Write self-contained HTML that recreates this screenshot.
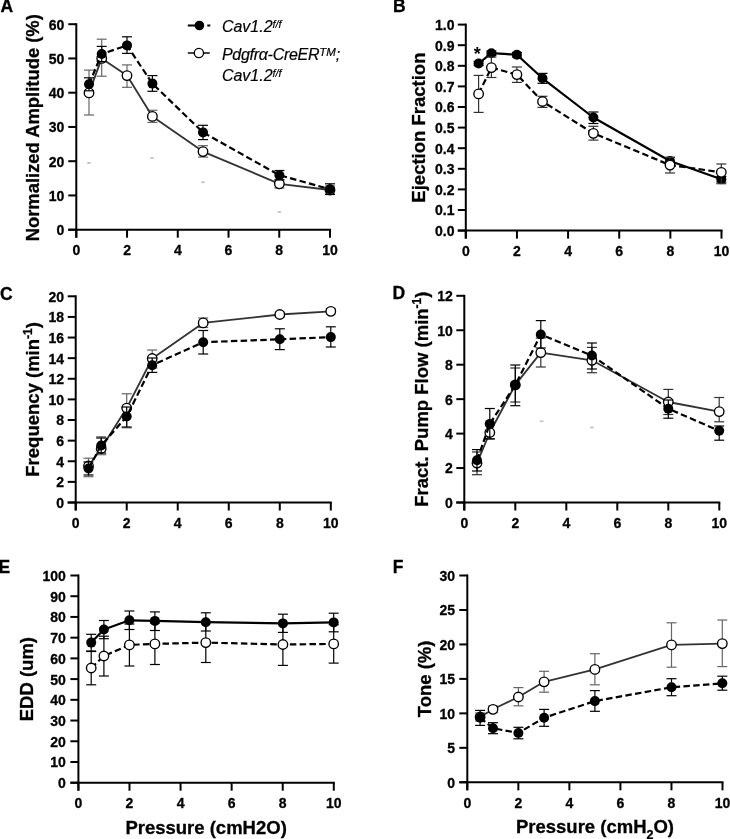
<!DOCTYPE html>
<html><head><meta charset="utf-8"><style>
html,body{margin:0;padding:0;background:#fff;}
body{width:730px;height:839px;overflow:hidden;font-family:"Liberation Sans", sans-serif;}
svg{display:block;}
</style></head><body>
<svg width="730" height="839" viewBox="0 0 730 839" font-family='"Liberation Sans", sans-serif'>
<rect x="0" y="0" width="730" height="839" fill="#fff"/>
<defs><filter id="bl" x="0" y="0" width="100%" height="100%"><feGaussianBlur stdDeviation="0.4"/></filter></defs><g filter="url(#bl)">
<line x1="76.30" y1="23.20" x2="76.30" y2="237.70" stroke="#000" stroke-width="2.0" />
<line x1="68.30" y1="229.70" x2="331.00" y2="229.70" stroke="#000" stroke-width="2.0" />
<line x1="68.30" y1="229.70" x2="76.30" y2="229.70" stroke="#000" stroke-width="2.0" />
<text x="64.30" y="235.10" font-size="14" text-anchor="end" font-weight="bold" font-style="normal" stroke="#000" stroke-width="0.3">0</text>
<line x1="68.30" y1="195.45" x2="76.30" y2="195.45" stroke="#000" stroke-width="2.0" />
<text x="64.30" y="200.85" font-size="14" text-anchor="end" font-weight="bold" font-style="normal" stroke="#000" stroke-width="0.3">10</text>
<line x1="68.30" y1="161.20" x2="76.30" y2="161.20" stroke="#000" stroke-width="2.0" />
<text x="64.30" y="166.60" font-size="14" text-anchor="end" font-weight="bold" font-style="normal" stroke="#000" stroke-width="0.3">20</text>
<line x1="68.30" y1="126.95" x2="76.30" y2="126.95" stroke="#000" stroke-width="2.0" />
<text x="64.30" y="132.35" font-size="14" text-anchor="end" font-weight="bold" font-style="normal" stroke="#000" stroke-width="0.3">30</text>
<line x1="68.30" y1="92.70" x2="76.30" y2="92.70" stroke="#000" stroke-width="2.0" />
<text x="64.30" y="98.10" font-size="14" text-anchor="end" font-weight="bold" font-style="normal" stroke="#000" stroke-width="0.3">40</text>
<line x1="68.30" y1="58.45" x2="76.30" y2="58.45" stroke="#000" stroke-width="2.0" />
<text x="64.30" y="63.85" font-size="14" text-anchor="end" font-weight="bold" font-style="normal" stroke="#000" stroke-width="0.3">50</text>
<line x1="68.30" y1="24.20" x2="76.30" y2="24.20" stroke="#000" stroke-width="2.0" />
<text x="64.30" y="29.60" font-size="14" text-anchor="end" font-weight="bold" font-style="normal" stroke="#000" stroke-width="0.3">60</text>
<line x1="76.30" y1="229.70" x2="76.30" y2="237.70" stroke="#000" stroke-width="2.0" />
<text x="76.30" y="254.50" font-size="14" text-anchor="middle" font-weight="bold" font-style="normal" stroke="#000" stroke-width="0.3">0</text>
<line x1="127.04" y1="229.70" x2="127.04" y2="237.70" stroke="#000" stroke-width="2.0" />
<text x="127.04" y="254.50" font-size="14" text-anchor="middle" font-weight="bold" font-style="normal" stroke="#000" stroke-width="0.3">2</text>
<line x1="177.78" y1="229.70" x2="177.78" y2="237.70" stroke="#000" stroke-width="2.0" />
<text x="177.78" y="254.50" font-size="14" text-anchor="middle" font-weight="bold" font-style="normal" stroke="#000" stroke-width="0.3">4</text>
<line x1="228.52" y1="229.70" x2="228.52" y2="237.70" stroke="#000" stroke-width="2.0" />
<text x="228.52" y="254.50" font-size="14" text-anchor="middle" font-weight="bold" font-style="normal" stroke="#000" stroke-width="0.3">6</text>
<line x1="279.26" y1="229.70" x2="279.26" y2="237.70" stroke="#000" stroke-width="2.0" />
<text x="279.26" y="254.50" font-size="14" text-anchor="middle" font-weight="bold" font-style="normal" stroke="#000" stroke-width="0.3">8</text>
<line x1="330.00" y1="229.70" x2="330.00" y2="237.70" stroke="#000" stroke-width="2.0" />
<text x="330.00" y="254.50" font-size="14" text-anchor="middle" font-weight="bold" font-style="normal" stroke="#000" stroke-width="0.3">10</text>
<text transform="translate(38.90,127.75) rotate(-90)" x="0" y="0" font-size="18.4" stroke="#000" stroke-width="0.3" text-anchor="middle" font-weight="bold">Normalized Amplitude (%)</text>
<text x="0.50" y="12.30" font-size="17.5" text-anchor="start" font-weight="bold" font-style="normal" stroke="#000" stroke-width="0.3">A</text>
<line x1="465.80" y1="23.60" x2="465.80" y2="238.60" stroke="#000" stroke-width="2.0" />
<line x1="457.80" y1="230.60" x2="722.50" y2="230.60" stroke="#000" stroke-width="2.0" />
<line x1="457.80" y1="230.60" x2="465.80" y2="230.60" stroke="#000" stroke-width="2.0" />
<text x="454.50" y="236.00" font-size="14" text-anchor="end" font-weight="bold" font-style="normal" stroke="#000" stroke-width="0.3">0.0</text>
<line x1="457.80" y1="210.00" x2="465.80" y2="210.00" stroke="#000" stroke-width="2.0" />
<text x="454.50" y="215.40" font-size="14" text-anchor="end" font-weight="bold" font-style="normal" stroke="#000" stroke-width="0.3">0.1</text>
<line x1="457.80" y1="189.40" x2="465.80" y2="189.40" stroke="#000" stroke-width="2.0" />
<text x="454.50" y="194.80" font-size="14" text-anchor="end" font-weight="bold" font-style="normal" stroke="#000" stroke-width="0.3">0.2</text>
<line x1="457.80" y1="168.80" x2="465.80" y2="168.80" stroke="#000" stroke-width="2.0" />
<text x="454.50" y="174.20" font-size="14" text-anchor="end" font-weight="bold" font-style="normal" stroke="#000" stroke-width="0.3">0.3</text>
<line x1="457.80" y1="148.20" x2="465.80" y2="148.20" stroke="#000" stroke-width="2.0" />
<text x="454.50" y="153.60" font-size="14" text-anchor="end" font-weight="bold" font-style="normal" stroke="#000" stroke-width="0.3">0.4</text>
<line x1="457.80" y1="127.60" x2="465.80" y2="127.60" stroke="#000" stroke-width="2.0" />
<text x="454.50" y="133.00" font-size="14" text-anchor="end" font-weight="bold" font-style="normal" stroke="#000" stroke-width="0.3">0.5</text>
<line x1="457.80" y1="107.00" x2="465.80" y2="107.00" stroke="#000" stroke-width="2.0" />
<text x="454.50" y="112.40" font-size="14" text-anchor="end" font-weight="bold" font-style="normal" stroke="#000" stroke-width="0.3">0.6</text>
<line x1="457.80" y1="86.40" x2="465.80" y2="86.40" stroke="#000" stroke-width="2.0" />
<text x="454.50" y="91.80" font-size="14" text-anchor="end" font-weight="bold" font-style="normal" stroke="#000" stroke-width="0.3">0.7</text>
<line x1="457.80" y1="65.80" x2="465.80" y2="65.80" stroke="#000" stroke-width="2.0" />
<text x="454.50" y="71.20" font-size="14" text-anchor="end" font-weight="bold" font-style="normal" stroke="#000" stroke-width="0.3">0.8</text>
<line x1="457.80" y1="45.20" x2="465.80" y2="45.20" stroke="#000" stroke-width="2.0" />
<text x="454.50" y="50.60" font-size="14" text-anchor="end" font-weight="bold" font-style="normal" stroke="#000" stroke-width="0.3">0.9</text>
<line x1="457.80" y1="24.60" x2="465.80" y2="24.60" stroke="#000" stroke-width="2.0" />
<text x="454.50" y="30.00" font-size="14" text-anchor="end" font-weight="bold" font-style="normal" stroke="#000" stroke-width="0.3">1.0</text>
<line x1="465.80" y1="230.60" x2="465.80" y2="238.60" stroke="#000" stroke-width="2.0" />
<text x="465.80" y="255.50" font-size="14" text-anchor="middle" font-weight="bold" font-style="normal" stroke="#000" stroke-width="0.3">0</text>
<line x1="516.94" y1="230.60" x2="516.94" y2="238.60" stroke="#000" stroke-width="2.0" />
<text x="516.94" y="255.50" font-size="14" text-anchor="middle" font-weight="bold" font-style="normal" stroke="#000" stroke-width="0.3">2</text>
<line x1="568.08" y1="230.60" x2="568.08" y2="238.60" stroke="#000" stroke-width="2.0" />
<text x="568.08" y="255.50" font-size="14" text-anchor="middle" font-weight="bold" font-style="normal" stroke="#000" stroke-width="0.3">4</text>
<line x1="619.22" y1="230.60" x2="619.22" y2="238.60" stroke="#000" stroke-width="2.0" />
<text x="619.22" y="255.50" font-size="14" text-anchor="middle" font-weight="bold" font-style="normal" stroke="#000" stroke-width="0.3">6</text>
<line x1="670.36" y1="230.60" x2="670.36" y2="238.60" stroke="#000" stroke-width="2.0" />
<text x="670.36" y="255.50" font-size="14" text-anchor="middle" font-weight="bold" font-style="normal" stroke="#000" stroke-width="0.3">8</text>
<line x1="721.50" y1="230.60" x2="721.50" y2="238.60" stroke="#000" stroke-width="2.0" />
<text x="721.50" y="255.50" font-size="14" text-anchor="middle" font-weight="bold" font-style="normal" stroke="#000" stroke-width="0.3">10</text>
<text transform="translate(425.00,127.60) rotate(-90)" x="0" y="0" font-size="18.5" stroke="#000" stroke-width="0.3" text-anchor="middle" font-weight="bold">Ejection Fraction</text>
<text x="393.00" y="12.30" font-size="17.5" text-anchor="start" font-weight="bold" font-style="normal" stroke="#000" stroke-width="0.3">B</text>
<line x1="75.70" y1="295.30" x2="75.70" y2="510.50" stroke="#000" stroke-width="2.0" />
<line x1="67.70" y1="502.50" x2="331.80" y2="502.50" stroke="#000" stroke-width="2.0" />
<line x1="67.70" y1="502.50" x2="75.70" y2="502.50" stroke="#000" stroke-width="2.0" />
<text x="64.00" y="507.90" font-size="14" text-anchor="end" font-weight="bold" font-style="normal" stroke="#000" stroke-width="0.3">0</text>
<line x1="67.70" y1="481.88" x2="75.70" y2="481.88" stroke="#000" stroke-width="2.0" />
<text x="64.00" y="487.28" font-size="14" text-anchor="end" font-weight="bold" font-style="normal" stroke="#000" stroke-width="0.3">2</text>
<line x1="67.70" y1="461.26" x2="75.70" y2="461.26" stroke="#000" stroke-width="2.0" />
<text x="64.00" y="466.66" font-size="14" text-anchor="end" font-weight="bold" font-style="normal" stroke="#000" stroke-width="0.3">4</text>
<line x1="67.70" y1="440.64" x2="75.70" y2="440.64" stroke="#000" stroke-width="2.0" />
<text x="64.00" y="446.04" font-size="14" text-anchor="end" font-weight="bold" font-style="normal" stroke="#000" stroke-width="0.3">6</text>
<line x1="67.70" y1="420.02" x2="75.70" y2="420.02" stroke="#000" stroke-width="2.0" />
<text x="64.00" y="425.42" font-size="14" text-anchor="end" font-weight="bold" font-style="normal" stroke="#000" stroke-width="0.3">8</text>
<line x1="67.70" y1="399.40" x2="75.70" y2="399.40" stroke="#000" stroke-width="2.0" />
<text x="64.00" y="404.80" font-size="14" text-anchor="end" font-weight="bold" font-style="normal" stroke="#000" stroke-width="0.3">10</text>
<line x1="67.70" y1="378.78" x2="75.70" y2="378.78" stroke="#000" stroke-width="2.0" />
<text x="64.00" y="384.18" font-size="14" text-anchor="end" font-weight="bold" font-style="normal" stroke="#000" stroke-width="0.3">12</text>
<line x1="67.70" y1="358.16" x2="75.70" y2="358.16" stroke="#000" stroke-width="2.0" />
<text x="64.00" y="363.56" font-size="14" text-anchor="end" font-weight="bold" font-style="normal" stroke="#000" stroke-width="0.3">14</text>
<line x1="67.70" y1="337.54" x2="75.70" y2="337.54" stroke="#000" stroke-width="2.0" />
<text x="64.00" y="342.94" font-size="14" text-anchor="end" font-weight="bold" font-style="normal" stroke="#000" stroke-width="0.3">16</text>
<line x1="67.70" y1="316.92" x2="75.70" y2="316.92" stroke="#000" stroke-width="2.0" />
<text x="64.00" y="322.32" font-size="14" text-anchor="end" font-weight="bold" font-style="normal" stroke="#000" stroke-width="0.3">18</text>
<line x1="67.70" y1="296.30" x2="75.70" y2="296.30" stroke="#000" stroke-width="2.0" />
<text x="64.00" y="301.70" font-size="14" text-anchor="end" font-weight="bold" font-style="normal" stroke="#000" stroke-width="0.3">20</text>
<line x1="75.70" y1="502.50" x2="75.70" y2="510.50" stroke="#000" stroke-width="2.0" />
<text x="75.70" y="527.50" font-size="14" text-anchor="middle" font-weight="bold" font-style="normal" stroke="#000" stroke-width="0.3">0</text>
<line x1="126.72" y1="502.50" x2="126.72" y2="510.50" stroke="#000" stroke-width="2.0" />
<text x="126.72" y="527.50" font-size="14" text-anchor="middle" font-weight="bold" font-style="normal" stroke="#000" stroke-width="0.3">2</text>
<line x1="177.74" y1="502.50" x2="177.74" y2="510.50" stroke="#000" stroke-width="2.0" />
<text x="177.74" y="527.50" font-size="14" text-anchor="middle" font-weight="bold" font-style="normal" stroke="#000" stroke-width="0.3">4</text>
<line x1="228.76" y1="502.50" x2="228.76" y2="510.50" stroke="#000" stroke-width="2.0" />
<text x="228.76" y="527.50" font-size="14" text-anchor="middle" font-weight="bold" font-style="normal" stroke="#000" stroke-width="0.3">6</text>
<line x1="279.78" y1="502.50" x2="279.78" y2="510.50" stroke="#000" stroke-width="2.0" />
<text x="279.78" y="527.50" font-size="14" text-anchor="middle" font-weight="bold" font-style="normal" stroke="#000" stroke-width="0.3">8</text>
<line x1="330.80" y1="502.50" x2="330.80" y2="510.50" stroke="#000" stroke-width="2.0" />
<text x="330.80" y="527.50" font-size="14" text-anchor="middle" font-weight="bold" font-style="normal" stroke="#000" stroke-width="0.3">10</text>
<text transform="translate(39.40,399.40) rotate(-90)" x="0" y="0" font-size="18.5" stroke="#000" stroke-width="0.3" text-anchor="middle" font-weight="bold">Frequency (min<tspan font-size="12" dy="-7">-1</tspan><tspan dy="7">)</tspan></text>
<text x="0.00" y="300.30" font-size="17.5" text-anchor="start" font-weight="bold" font-style="normal" stroke="#000" stroke-width="0.3">C</text>
<line x1="464.30" y1="294.80" x2="464.30" y2="510.50" stroke="#000" stroke-width="2.0" />
<line x1="456.30" y1="502.50" x2="720.30" y2="502.50" stroke="#000" stroke-width="2.0" />
<line x1="456.30" y1="502.50" x2="464.30" y2="502.50" stroke="#000" stroke-width="2.0" />
<text x="452.80" y="507.90" font-size="14" text-anchor="end" font-weight="bold" font-style="normal" stroke="#000" stroke-width="0.3">0</text>
<line x1="456.30" y1="468.05" x2="464.30" y2="468.05" stroke="#000" stroke-width="2.0" />
<text x="452.80" y="473.45" font-size="14" text-anchor="end" font-weight="bold" font-style="normal" stroke="#000" stroke-width="0.3">2</text>
<line x1="456.30" y1="433.60" x2="464.30" y2="433.60" stroke="#000" stroke-width="2.0" />
<text x="452.80" y="439.00" font-size="14" text-anchor="end" font-weight="bold" font-style="normal" stroke="#000" stroke-width="0.3">4</text>
<line x1="456.30" y1="399.15" x2="464.30" y2="399.15" stroke="#000" stroke-width="2.0" />
<text x="452.80" y="404.55" font-size="14" text-anchor="end" font-weight="bold" font-style="normal" stroke="#000" stroke-width="0.3">6</text>
<line x1="456.30" y1="364.70" x2="464.30" y2="364.70" stroke="#000" stroke-width="2.0" />
<text x="452.80" y="370.10" font-size="14" text-anchor="end" font-weight="bold" font-style="normal" stroke="#000" stroke-width="0.3">8</text>
<line x1="456.30" y1="330.25" x2="464.30" y2="330.25" stroke="#000" stroke-width="2.0" />
<text x="452.80" y="335.65" font-size="14" text-anchor="end" font-weight="bold" font-style="normal" stroke="#000" stroke-width="0.3">10</text>
<line x1="456.30" y1="295.80" x2="464.30" y2="295.80" stroke="#000" stroke-width="2.0" />
<text x="452.80" y="301.20" font-size="14" text-anchor="end" font-weight="bold" font-style="normal" stroke="#000" stroke-width="0.3">12</text>
<line x1="464.30" y1="502.50" x2="464.30" y2="510.50" stroke="#000" stroke-width="2.0" />
<text x="464.30" y="527.50" font-size="14" text-anchor="middle" font-weight="bold" font-style="normal" stroke="#000" stroke-width="0.3">0</text>
<line x1="515.30" y1="502.50" x2="515.30" y2="510.50" stroke="#000" stroke-width="2.0" />
<text x="515.30" y="527.50" font-size="14" text-anchor="middle" font-weight="bold" font-style="normal" stroke="#000" stroke-width="0.3">2</text>
<line x1="566.30" y1="502.50" x2="566.30" y2="510.50" stroke="#000" stroke-width="2.0" />
<text x="566.30" y="527.50" font-size="14" text-anchor="middle" font-weight="bold" font-style="normal" stroke="#000" stroke-width="0.3">4</text>
<line x1="617.30" y1="502.50" x2="617.30" y2="510.50" stroke="#000" stroke-width="2.0" />
<text x="617.30" y="527.50" font-size="14" text-anchor="middle" font-weight="bold" font-style="normal" stroke="#000" stroke-width="0.3">6</text>
<line x1="668.30" y1="502.50" x2="668.30" y2="510.50" stroke="#000" stroke-width="2.0" />
<text x="668.30" y="527.50" font-size="14" text-anchor="middle" font-weight="bold" font-style="normal" stroke="#000" stroke-width="0.3">8</text>
<line x1="719.30" y1="502.50" x2="719.30" y2="510.50" stroke="#000" stroke-width="2.0" />
<text x="719.30" y="527.50" font-size="14" text-anchor="middle" font-weight="bold" font-style="normal" stroke="#000" stroke-width="0.3">10</text>
<text transform="translate(427.70,399.15) rotate(-90)" x="0" y="0" font-size="18.5" stroke="#000" stroke-width="0.3" text-anchor="middle" font-weight="bold">Fract. Pump Flow (min<tspan font-size="12" dy="-7">-1</tspan><tspan dy="7">)</tspan></text>
<text x="392.50" y="299.00" font-size="17.5" text-anchor="start" font-weight="bold" font-style="normal" stroke="#000" stroke-width="0.3">D</text>
<line x1="78.40" y1="574.50" x2="78.40" y2="790.70" stroke="#000" stroke-width="2.0" />
<line x1="70.40" y1="782.70" x2="334.80" y2="782.70" stroke="#000" stroke-width="2.0" />
<line x1="70.40" y1="782.70" x2="78.40" y2="782.70" stroke="#000" stroke-width="2.0" />
<text x="65.80" y="788.10" font-size="14" text-anchor="end" font-weight="bold" font-style="normal" stroke="#000" stroke-width="0.3">0</text>
<line x1="70.40" y1="761.98" x2="78.40" y2="761.98" stroke="#000" stroke-width="2.0" />
<text x="65.80" y="767.38" font-size="14" text-anchor="end" font-weight="bold" font-style="normal" stroke="#000" stroke-width="0.3">10</text>
<line x1="70.40" y1="741.26" x2="78.40" y2="741.26" stroke="#000" stroke-width="2.0" />
<text x="65.80" y="746.66" font-size="14" text-anchor="end" font-weight="bold" font-style="normal" stroke="#000" stroke-width="0.3">20</text>
<line x1="70.40" y1="720.54" x2="78.40" y2="720.54" stroke="#000" stroke-width="2.0" />
<text x="65.80" y="725.94" font-size="14" text-anchor="end" font-weight="bold" font-style="normal" stroke="#000" stroke-width="0.3">30</text>
<line x1="70.40" y1="699.82" x2="78.40" y2="699.82" stroke="#000" stroke-width="2.0" />
<text x="65.80" y="705.22" font-size="14" text-anchor="end" font-weight="bold" font-style="normal" stroke="#000" stroke-width="0.3">40</text>
<line x1="70.40" y1="679.10" x2="78.40" y2="679.10" stroke="#000" stroke-width="2.0" />
<text x="65.80" y="684.50" font-size="14" text-anchor="end" font-weight="bold" font-style="normal" stroke="#000" stroke-width="0.3">50</text>
<line x1="70.40" y1="658.38" x2="78.40" y2="658.38" stroke="#000" stroke-width="2.0" />
<text x="65.80" y="663.78" font-size="14" text-anchor="end" font-weight="bold" font-style="normal" stroke="#000" stroke-width="0.3">60</text>
<line x1="70.40" y1="637.66" x2="78.40" y2="637.66" stroke="#000" stroke-width="2.0" />
<text x="65.80" y="643.06" font-size="14" text-anchor="end" font-weight="bold" font-style="normal" stroke="#000" stroke-width="0.3">70</text>
<line x1="70.40" y1="616.94" x2="78.40" y2="616.94" stroke="#000" stroke-width="2.0" />
<text x="65.80" y="622.34" font-size="14" text-anchor="end" font-weight="bold" font-style="normal" stroke="#000" stroke-width="0.3">80</text>
<line x1="70.40" y1="596.22" x2="78.40" y2="596.22" stroke="#000" stroke-width="2.0" />
<text x="65.80" y="601.62" font-size="14" text-anchor="end" font-weight="bold" font-style="normal" stroke="#000" stroke-width="0.3">90</text>
<line x1="70.40" y1="575.50" x2="78.40" y2="575.50" stroke="#000" stroke-width="2.0" />
<text x="65.80" y="580.90" font-size="14" text-anchor="end" font-weight="bold" font-style="normal" stroke="#000" stroke-width="0.3">100</text>
<line x1="78.40" y1="782.70" x2="78.40" y2="790.70" stroke="#000" stroke-width="2.0" />
<text x="78.40" y="807.80" font-size="14" text-anchor="middle" font-weight="bold" font-style="normal" stroke="#000" stroke-width="0.3">0</text>
<line x1="129.48" y1="782.70" x2="129.48" y2="790.70" stroke="#000" stroke-width="2.0" />
<text x="129.48" y="807.80" font-size="14" text-anchor="middle" font-weight="bold" font-style="normal" stroke="#000" stroke-width="0.3">2</text>
<line x1="180.56" y1="782.70" x2="180.56" y2="790.70" stroke="#000" stroke-width="2.0" />
<text x="180.56" y="807.80" font-size="14" text-anchor="middle" font-weight="bold" font-style="normal" stroke="#000" stroke-width="0.3">4</text>
<line x1="231.64" y1="782.70" x2="231.64" y2="790.70" stroke="#000" stroke-width="2.0" />
<text x="231.64" y="807.80" font-size="14" text-anchor="middle" font-weight="bold" font-style="normal" stroke="#000" stroke-width="0.3">6</text>
<line x1="282.72" y1="782.70" x2="282.72" y2="790.70" stroke="#000" stroke-width="2.0" />
<text x="282.72" y="807.80" font-size="14" text-anchor="middle" font-weight="bold" font-style="normal" stroke="#000" stroke-width="0.3">8</text>
<line x1="333.80" y1="782.70" x2="333.80" y2="790.70" stroke="#000" stroke-width="2.0" />
<text x="333.80" y="807.80" font-size="14" text-anchor="middle" font-weight="bold" font-style="normal" stroke="#000" stroke-width="0.3">10</text>
<text transform="translate(33.00,679.10) rotate(-90)" x="0" y="0" font-size="18.5" stroke="#000" stroke-width="0.3" text-anchor="middle" font-weight="bold">EDD (um)</text>
<text x="-1.50" y="572.50" font-size="17.5" text-anchor="start" font-weight="bold" font-style="normal" stroke="#000" stroke-width="0.3">E</text>
<text x="206.1" y="833.8" font-size="18.5" text-anchor="middle" font-weight="bold" stroke="#000" stroke-width="0.3">Pressure (cmH2O)</text>
<line x1="467.30" y1="574.50" x2="467.30" y2="790.30" stroke="#000" stroke-width="2.0" />
<line x1="459.30" y1="782.30" x2="723.50" y2="782.30" stroke="#000" stroke-width="2.0" />
<line x1="459.30" y1="782.30" x2="467.30" y2="782.30" stroke="#000" stroke-width="2.0" />
<text x="455.00" y="787.70" font-size="14" text-anchor="end" font-weight="bold" font-style="normal" stroke="#000" stroke-width="0.3">0</text>
<line x1="459.30" y1="747.83" x2="467.30" y2="747.83" stroke="#000" stroke-width="2.0" />
<text x="455.00" y="753.23" font-size="14" text-anchor="end" font-weight="bold" font-style="normal" stroke="#000" stroke-width="0.3">5</text>
<line x1="459.30" y1="713.37" x2="467.30" y2="713.37" stroke="#000" stroke-width="2.0" />
<text x="455.00" y="718.77" font-size="14" text-anchor="end" font-weight="bold" font-style="normal" stroke="#000" stroke-width="0.3">10</text>
<line x1="459.30" y1="678.90" x2="467.30" y2="678.90" stroke="#000" stroke-width="2.0" />
<text x="455.00" y="684.30" font-size="14" text-anchor="end" font-weight="bold" font-style="normal" stroke="#000" stroke-width="0.3">15</text>
<line x1="459.30" y1="644.43" x2="467.30" y2="644.43" stroke="#000" stroke-width="2.0" />
<text x="455.00" y="649.83" font-size="14" text-anchor="end" font-weight="bold" font-style="normal" stroke="#000" stroke-width="0.3">20</text>
<line x1="459.30" y1="609.97" x2="467.30" y2="609.97" stroke="#000" stroke-width="2.0" />
<text x="455.00" y="615.37" font-size="14" text-anchor="end" font-weight="bold" font-style="normal" stroke="#000" stroke-width="0.3">25</text>
<line x1="459.30" y1="575.50" x2="467.30" y2="575.50" stroke="#000" stroke-width="2.0" />
<text x="455.00" y="580.90" font-size="14" text-anchor="end" font-weight="bold" font-style="normal" stroke="#000" stroke-width="0.3">30</text>
<line x1="467.30" y1="782.30" x2="467.30" y2="790.30" stroke="#000" stroke-width="2.0" />
<text x="467.30" y="808.00" font-size="14" text-anchor="middle" font-weight="bold" font-style="normal" stroke="#000" stroke-width="0.3">0</text>
<line x1="518.34" y1="782.30" x2="518.34" y2="790.30" stroke="#000" stroke-width="2.0" />
<text x="518.34" y="808.00" font-size="14" text-anchor="middle" font-weight="bold" font-style="normal" stroke="#000" stroke-width="0.3">2</text>
<line x1="569.38" y1="782.30" x2="569.38" y2="790.30" stroke="#000" stroke-width="2.0" />
<text x="569.38" y="808.00" font-size="14" text-anchor="middle" font-weight="bold" font-style="normal" stroke="#000" stroke-width="0.3">4</text>
<line x1="620.42" y1="782.30" x2="620.42" y2="790.30" stroke="#000" stroke-width="2.0" />
<text x="620.42" y="808.00" font-size="14" text-anchor="middle" font-weight="bold" font-style="normal" stroke="#000" stroke-width="0.3">6</text>
<line x1="671.46" y1="782.30" x2="671.46" y2="790.30" stroke="#000" stroke-width="2.0" />
<text x="671.46" y="808.00" font-size="14" text-anchor="middle" font-weight="bold" font-style="normal" stroke="#000" stroke-width="0.3">8</text>
<line x1="722.50" y1="782.30" x2="722.50" y2="790.30" stroke="#000" stroke-width="2.0" />
<text x="722.50" y="808.00" font-size="14" text-anchor="middle" font-weight="bold" font-style="normal" stroke="#000" stroke-width="0.3">10</text>
<text transform="translate(430.70,678.90) rotate(-90)" x="0" y="0" font-size="18.5" stroke="#000" stroke-width="0.3" text-anchor="middle" font-weight="bold">Tone (%)</text>
<text x="392.80" y="572.50" font-size="17.5" text-anchor="start" font-weight="bold" font-style="normal" stroke="#000" stroke-width="0.3">F</text>
<text x="595.0" y="833.3" font-size="18.5" text-anchor="middle" font-weight="bold" stroke="#000" stroke-width="0.3">Pressure (cmH<tspan font-size="12.5" dy="5.5">2</tspan><tspan dy="-5.5">O)</tspan></text>
<rect x="87.0" y="162.0" width="4" height="2" rx="1" fill="#c8c8c8"/>
<rect x="150.0" y="157.0" width="4" height="2" rx="1" fill="#c8c8c8"/>
<rect x="201.0" y="181.3" width="4" height="2" rx="1" fill="#c8c8c8"/>
<rect x="277.3" y="211.0" width="4" height="2" rx="1" fill="#c8c8c8"/>
<rect x="539.6" y="420.3" width="4" height="2" rx="1" fill="#c8c8c8"/>
<rect x="589.9" y="426.4" width="4" height="2" rx="1" fill="#c8c8c8"/>
<line x1="89.00" y1="70.10" x2="89.00" y2="115.00" stroke="#666" stroke-width="1.2" />
<line x1="84.00" y1="70.10" x2="94.00" y2="70.10" stroke="#666" stroke-width="1.2" />
<line x1="84.00" y1="115.00" x2="94.00" y2="115.00" stroke="#666" stroke-width="1.2" />
<line x1="101.70" y1="39.20" x2="101.70" y2="76.20" stroke="#666" stroke-width="1.2" />
<line x1="96.70" y1="39.20" x2="106.70" y2="39.20" stroke="#666" stroke-width="1.2" />
<line x1="96.70" y1="76.20" x2="106.70" y2="76.20" stroke="#666" stroke-width="1.2" />
<line x1="127.00" y1="64.90" x2="127.00" y2="87.30" stroke="#666" stroke-width="1.2" />
<line x1="122.00" y1="64.90" x2="132.00" y2="64.90" stroke="#666" stroke-width="1.2" />
<line x1="122.00" y1="87.30" x2="132.00" y2="87.30" stroke="#666" stroke-width="1.2" />
<line x1="152.40" y1="110.30" x2="152.40" y2="122.40" stroke="#666" stroke-width="1.2" />
<line x1="147.40" y1="110.30" x2="157.40" y2="110.30" stroke="#666" stroke-width="1.2" />
<line x1="147.40" y1="122.40" x2="157.40" y2="122.40" stroke="#666" stroke-width="1.2" />
<line x1="203.00" y1="145.70" x2="203.00" y2="157.10" stroke="#666" stroke-width="1.2" />
<line x1="198.00" y1="145.70" x2="208.00" y2="145.70" stroke="#666" stroke-width="1.2" />
<line x1="198.00" y1="157.10" x2="208.00" y2="157.10" stroke="#666" stroke-width="1.2" />
<line x1="279.40" y1="179.50" x2="279.40" y2="188.00" stroke="#666" stroke-width="1.2" />
<line x1="274.40" y1="179.50" x2="284.40" y2="179.50" stroke="#666" stroke-width="1.2" />
<line x1="274.40" y1="188.00" x2="284.40" y2="188.00" stroke="#666" stroke-width="1.2" />
<line x1="330.00" y1="186.00" x2="330.00" y2="194.00" stroke="#666" stroke-width="1.2" />
<line x1="325.00" y1="186.00" x2="335.00" y2="186.00" stroke="#666" stroke-width="1.2" />
<line x1="325.00" y1="194.00" x2="335.00" y2="194.00" stroke="#666" stroke-width="1.2" />
<path d="M89.00,92.90 L101.70,58.40 L127.00,75.60 L152.40,116.40 L203.00,151.60 L279.40,183.80 L330.00,190.00" fill="none" stroke="#333" stroke-width="1.8"  stroke-linejoin="round"/>
<circle cx="89.00" cy="92.90" r="4.75" fill="#fff" stroke="#000" stroke-width="1.35"/>
<circle cx="101.70" cy="58.40" r="4.75" fill="#fff" stroke="#000" stroke-width="1.35"/>
<circle cx="127.00" cy="75.60" r="4.75" fill="#fff" stroke="#000" stroke-width="1.35"/>
<circle cx="152.40" cy="116.40" r="4.75" fill="#fff" stroke="#000" stroke-width="1.35"/>
<circle cx="203.00" cy="151.60" r="4.75" fill="#fff" stroke="#000" stroke-width="1.35"/>
<circle cx="279.40" cy="183.80" r="4.75" fill="#fff" stroke="#000" stroke-width="1.35"/>
<circle cx="330.00" cy="190.00" r="4.75" fill="#fff" stroke="#000" stroke-width="1.35"/>
<line x1="89.00" y1="77.80" x2="89.00" y2="90.80" stroke="#000" stroke-width="1.2" />
<line x1="84.00" y1="77.80" x2="94.00" y2="77.80" stroke="#000" stroke-width="1.2" />
<line x1="84.00" y1="90.80" x2="94.00" y2="90.80" stroke="#000" stroke-width="1.2" />
<line x1="101.70" y1="46.40" x2="101.70" y2="61.60" stroke="#000" stroke-width="1.2" />
<line x1="96.70" y1="46.40" x2="106.70" y2="46.40" stroke="#000" stroke-width="1.2" />
<line x1="96.70" y1="61.60" x2="106.70" y2="61.60" stroke="#000" stroke-width="1.2" />
<line x1="127.00" y1="36.80" x2="127.00" y2="53.40" stroke="#000" stroke-width="1.2" />
<line x1="122.00" y1="36.80" x2="132.00" y2="36.80" stroke="#000" stroke-width="1.2" />
<line x1="122.00" y1="53.40" x2="132.00" y2="53.40" stroke="#000" stroke-width="1.2" />
<line x1="152.40" y1="75.60" x2="152.40" y2="91.30" stroke="#000" stroke-width="1.2" />
<line x1="147.40" y1="75.60" x2="157.40" y2="75.60" stroke="#000" stroke-width="1.2" />
<line x1="147.40" y1="91.30" x2="157.40" y2="91.30" stroke="#000" stroke-width="1.2" />
<line x1="203.00" y1="125.30" x2="203.00" y2="139.60" stroke="#000" stroke-width="1.2" />
<line x1="198.00" y1="125.30" x2="208.00" y2="125.30" stroke="#000" stroke-width="1.2" />
<line x1="198.00" y1="139.60" x2="208.00" y2="139.60" stroke="#000" stroke-width="1.2" />
<line x1="279.40" y1="170.50" x2="279.40" y2="180.00" stroke="#000" stroke-width="1.2" />
<line x1="274.40" y1="170.50" x2="284.40" y2="170.50" stroke="#000" stroke-width="1.2" />
<line x1="274.40" y1="180.00" x2="284.40" y2="180.00" stroke="#000" stroke-width="1.2" />
<line x1="330.00" y1="183.80" x2="330.00" y2="194.50" stroke="#000" stroke-width="1.2" />
<line x1="325.00" y1="183.80" x2="335.00" y2="183.80" stroke="#000" stroke-width="1.2" />
<line x1="325.00" y1="194.50" x2="335.00" y2="194.50" stroke="#000" stroke-width="1.2" />
<path d="M89.00,84.30 L101.70,54.00 L127.00,45.40 L152.40,83.60 L203.00,132.40 L279.40,175.20 L330.00,189.20" fill="none" stroke="#000" stroke-width="2.2" stroke-dasharray="6.5,3.3" stroke-linejoin="round"/>
<circle cx="89.00" cy="84.30" r="5.0" fill="#000"/>
<circle cx="101.70" cy="54.00" r="5.0" fill="#000"/>
<circle cx="127.00" cy="45.40" r="5.0" fill="#000"/>
<circle cx="152.40" cy="83.60" r="5.0" fill="#000"/>
<circle cx="203.00" cy="132.40" r="5.0" fill="#000"/>
<circle cx="279.40" cy="175.20" r="5.0" fill="#000"/>
<circle cx="330.00" cy="189.20" r="5.0" fill="#000"/>
<line x1="478.60" y1="61.50" x2="478.60" y2="65.50" stroke="#000" stroke-width="1.2" />
<line x1="473.60" y1="61.50" x2="483.60" y2="61.50" stroke="#000" stroke-width="1.2" />
<line x1="473.60" y1="65.50" x2="483.60" y2="65.50" stroke="#000" stroke-width="1.2" />
<line x1="491.40" y1="51.00" x2="491.40" y2="55.50" stroke="#000" stroke-width="1.2" />
<line x1="486.40" y1="51.00" x2="496.40" y2="51.00" stroke="#000" stroke-width="1.2" />
<line x1="486.40" y1="55.50" x2="496.40" y2="55.50" stroke="#000" stroke-width="1.2" />
<line x1="516.90" y1="52.50" x2="516.90" y2="57.00" stroke="#000" stroke-width="1.2" />
<line x1="511.90" y1="52.50" x2="521.90" y2="52.50" stroke="#000" stroke-width="1.2" />
<line x1="511.90" y1="57.00" x2="521.90" y2="57.00" stroke="#000" stroke-width="1.2" />
<line x1="542.50" y1="73.40" x2="542.50" y2="83.30" stroke="#000" stroke-width="1.2" />
<line x1="537.50" y1="73.40" x2="547.50" y2="73.40" stroke="#000" stroke-width="1.2" />
<line x1="537.50" y1="83.30" x2="547.50" y2="83.30" stroke="#000" stroke-width="1.2" />
<line x1="593.40" y1="112.00" x2="593.40" y2="123.50" stroke="#000" stroke-width="1.2" />
<line x1="588.40" y1="112.00" x2="598.40" y2="112.00" stroke="#000" stroke-width="1.2" />
<line x1="588.40" y1="123.50" x2="598.40" y2="123.50" stroke="#000" stroke-width="1.2" />
<line x1="670.00" y1="157.40" x2="670.00" y2="162.00" stroke="#000" stroke-width="1.2" />
<line x1="665.00" y1="157.40" x2="675.00" y2="157.40" stroke="#000" stroke-width="1.2" />
<line x1="665.00" y1="162.00" x2="675.00" y2="162.00" stroke="#000" stroke-width="1.2" />
<line x1="721.30" y1="176.50" x2="721.30" y2="182.00" stroke="#000" stroke-width="1.2" />
<line x1="716.30" y1="176.50" x2="726.30" y2="176.50" stroke="#000" stroke-width="1.2" />
<line x1="716.30" y1="182.00" x2="726.30" y2="182.00" stroke="#000" stroke-width="1.2" />
<path d="M478.60,63.50 L491.40,53.20 L516.90,54.70 L542.50,78.30 L593.40,117.50 L670.00,161.00 L721.30,179.30" fill="none" stroke="#000" stroke-width="2.2"  stroke-linejoin="round"/>
<circle cx="478.60" cy="63.50" r="5.0" fill="#000"/>
<circle cx="491.40" cy="53.20" r="5.0" fill="#000"/>
<circle cx="516.90" cy="54.70" r="5.0" fill="#000"/>
<circle cx="542.50" cy="78.30" r="5.0" fill="#000"/>
<circle cx="593.40" cy="117.50" r="5.0" fill="#000"/>
<circle cx="670.00" cy="161.00" r="5.0" fill="#000"/>
<circle cx="721.30" cy="179.30" r="5.0" fill="#000"/>
<line x1="478.60" y1="75.40" x2="478.60" y2="112.40" stroke="#333" stroke-width="1.2" />
<line x1="473.60" y1="75.40" x2="483.60" y2="75.40" stroke="#333" stroke-width="1.2" />
<line x1="473.60" y1="112.40" x2="483.60" y2="112.40" stroke="#333" stroke-width="1.2" />
<line x1="491.40" y1="57.10" x2="491.40" y2="77.50" stroke="#333" stroke-width="1.2" />
<line x1="486.40" y1="57.10" x2="496.40" y2="57.10" stroke="#333" stroke-width="1.2" />
<line x1="486.40" y1="77.50" x2="496.40" y2="77.50" stroke="#333" stroke-width="1.2" />
<line x1="516.90" y1="67.00" x2="516.90" y2="82.40" stroke="#333" stroke-width="1.2" />
<line x1="511.90" y1="67.00" x2="521.90" y2="67.00" stroke="#333" stroke-width="1.2" />
<line x1="511.90" y1="82.40" x2="521.90" y2="82.40" stroke="#333" stroke-width="1.2" />
<line x1="542.50" y1="96.30" x2="542.50" y2="107.40" stroke="#333" stroke-width="1.2" />
<line x1="537.50" y1="96.30" x2="547.50" y2="96.30" stroke="#333" stroke-width="1.2" />
<line x1="537.50" y1="107.40" x2="547.50" y2="107.40" stroke="#333" stroke-width="1.2" />
<line x1="593.40" y1="126.30" x2="593.40" y2="140.10" stroke="#333" stroke-width="1.2" />
<line x1="588.40" y1="126.30" x2="598.40" y2="126.30" stroke="#333" stroke-width="1.2" />
<line x1="588.40" y1="140.10" x2="598.40" y2="140.10" stroke="#333" stroke-width="1.2" />
<line x1="670.00" y1="157.40" x2="670.00" y2="173.00" stroke="#333" stroke-width="1.2" />
<line x1="665.00" y1="157.40" x2="675.00" y2="157.40" stroke="#333" stroke-width="1.2" />
<line x1="665.00" y1="173.00" x2="675.00" y2="173.00" stroke="#333" stroke-width="1.2" />
<line x1="721.30" y1="164.00" x2="721.30" y2="183.70" stroke="#333" stroke-width="1.2" />
<line x1="716.30" y1="164.00" x2="726.30" y2="164.00" stroke="#333" stroke-width="1.2" />
<line x1="716.30" y1="183.70" x2="726.30" y2="183.70" stroke="#333" stroke-width="1.2" />
<path d="M478.60,93.90 L491.40,67.60 L516.90,74.60 L542.50,101.50 L593.40,133.30 L670.00,165.10 L721.30,172.30" fill="none" stroke="#000" stroke-width="2.2" stroke-dasharray="6.5,3.3" stroke-linejoin="round"/>
<circle cx="478.60" cy="93.90" r="4.75" fill="#fff" stroke="#000" stroke-width="1.35"/>
<circle cx="491.40" cy="67.60" r="4.75" fill="#fff" stroke="#000" stroke-width="1.35"/>
<circle cx="516.90" cy="74.60" r="4.75" fill="#fff" stroke="#000" stroke-width="1.35"/>
<circle cx="542.50" cy="101.50" r="4.75" fill="#fff" stroke="#000" stroke-width="1.35"/>
<circle cx="593.40" cy="133.30" r="4.75" fill="#fff" stroke="#000" stroke-width="1.35"/>
<circle cx="670.00" cy="165.10" r="4.75" fill="#fff" stroke="#000" stroke-width="1.35"/>
<circle cx="721.30" cy="172.30" r="4.75" fill="#fff" stroke="#000" stroke-width="1.35"/>
<line x1="88.50" y1="458.20" x2="88.50" y2="476.70" stroke="#666" stroke-width="1.2" />
<line x1="83.50" y1="458.20" x2="93.50" y2="458.20" stroke="#666" stroke-width="1.2" />
<line x1="83.50" y1="476.70" x2="93.50" y2="476.70" stroke="#666" stroke-width="1.2" />
<line x1="101.20" y1="436.80" x2="101.20" y2="454.70" stroke="#666" stroke-width="1.2" />
<line x1="96.20" y1="436.80" x2="106.20" y2="436.80" stroke="#666" stroke-width="1.2" />
<line x1="96.20" y1="454.70" x2="106.20" y2="454.70" stroke="#666" stroke-width="1.2" />
<line x1="126.70" y1="393.80" x2="126.70" y2="427.80" stroke="#666" stroke-width="1.2" />
<line x1="121.70" y1="393.80" x2="131.70" y2="393.80" stroke="#666" stroke-width="1.2" />
<line x1="121.70" y1="427.80" x2="131.70" y2="427.80" stroke="#666" stroke-width="1.2" />
<line x1="152.20" y1="350.00" x2="152.20" y2="368.00" stroke="#666" stroke-width="1.2" />
<line x1="147.20" y1="350.00" x2="157.20" y2="350.00" stroke="#666" stroke-width="1.2" />
<line x1="147.20" y1="368.00" x2="157.20" y2="368.00" stroke="#666" stroke-width="1.2" />
<line x1="203.20" y1="318.00" x2="203.20" y2="327.50" stroke="#666" stroke-width="1.2" />
<line x1="198.20" y1="318.00" x2="208.20" y2="318.00" stroke="#666" stroke-width="1.2" />
<line x1="198.20" y1="327.50" x2="208.20" y2="327.50" stroke="#666" stroke-width="1.2" />
<line x1="279.80" y1="312.00" x2="279.80" y2="317.00" stroke="#666" stroke-width="1.2" />
<line x1="274.80" y1="312.00" x2="284.80" y2="312.00" stroke="#666" stroke-width="1.2" />
<line x1="274.80" y1="317.00" x2="284.80" y2="317.00" stroke="#666" stroke-width="1.2" />
<line x1="330.80" y1="308.50" x2="330.80" y2="314.00" stroke="#666" stroke-width="1.2" />
<line x1="325.80" y1="308.50" x2="335.80" y2="308.50" stroke="#666" stroke-width="1.2" />
<line x1="325.80" y1="314.00" x2="335.80" y2="314.00" stroke="#666" stroke-width="1.2" />
<path d="M88.50,466.00 L101.20,448.50 L126.70,408.10 L152.20,358.50 L203.20,322.90 L279.80,314.50 L330.80,311.30" fill="none" stroke="#333" stroke-width="1.8"  stroke-linejoin="round"/>
<circle cx="88.50" cy="466.00" r="4.75" fill="#fff" stroke="#000" stroke-width="1.35"/>
<circle cx="101.20" cy="448.50" r="4.75" fill="#fff" stroke="#000" stroke-width="1.35"/>
<circle cx="126.70" cy="408.10" r="4.75" fill="#fff" stroke="#000" stroke-width="1.35"/>
<circle cx="152.20" cy="358.50" r="4.75" fill="#fff" stroke="#000" stroke-width="1.35"/>
<circle cx="203.20" cy="322.90" r="4.75" fill="#fff" stroke="#000" stroke-width="1.35"/>
<circle cx="279.80" cy="314.50" r="4.75" fill="#fff" stroke="#000" stroke-width="1.35"/>
<circle cx="330.80" cy="311.30" r="4.75" fill="#fff" stroke="#000" stroke-width="1.35"/>
<line x1="88.50" y1="462.00" x2="88.50" y2="475.00" stroke="#000" stroke-width="1.2" />
<line x1="83.50" y1="462.00" x2="93.50" y2="462.00" stroke="#000" stroke-width="1.2" />
<line x1="83.50" y1="475.00" x2="93.50" y2="475.00" stroke="#000" stroke-width="1.2" />
<line x1="101.20" y1="438.00" x2="101.20" y2="453.00" stroke="#000" stroke-width="1.2" />
<line x1="96.20" y1="438.00" x2="106.20" y2="438.00" stroke="#000" stroke-width="1.2" />
<line x1="96.20" y1="453.00" x2="106.20" y2="453.00" stroke="#000" stroke-width="1.2" />
<line x1="126.70" y1="407.00" x2="126.70" y2="427.00" stroke="#000" stroke-width="1.2" />
<line x1="121.70" y1="407.00" x2="131.70" y2="407.00" stroke="#000" stroke-width="1.2" />
<line x1="121.70" y1="427.00" x2="131.70" y2="427.00" stroke="#000" stroke-width="1.2" />
<line x1="152.20" y1="358.00" x2="152.20" y2="372.40" stroke="#000" stroke-width="1.2" />
<line x1="147.20" y1="358.00" x2="157.20" y2="358.00" stroke="#000" stroke-width="1.2" />
<line x1="147.20" y1="372.40" x2="157.20" y2="372.40" stroke="#000" stroke-width="1.2" />
<line x1="203.20" y1="330.50" x2="203.20" y2="354.00" stroke="#000" stroke-width="1.2" />
<line x1="198.20" y1="330.50" x2="208.20" y2="330.50" stroke="#000" stroke-width="1.2" />
<line x1="198.20" y1="354.00" x2="208.20" y2="354.00" stroke="#000" stroke-width="1.2" />
<line x1="279.80" y1="328.80" x2="279.80" y2="349.60" stroke="#000" stroke-width="1.2" />
<line x1="274.80" y1="328.80" x2="284.80" y2="328.80" stroke="#000" stroke-width="1.2" />
<line x1="274.80" y1="349.60" x2="284.80" y2="349.60" stroke="#000" stroke-width="1.2" />
<line x1="330.80" y1="326.80" x2="330.80" y2="347.00" stroke="#000" stroke-width="1.2" />
<line x1="325.80" y1="326.80" x2="335.80" y2="326.80" stroke="#000" stroke-width="1.2" />
<line x1="325.80" y1="347.00" x2="335.80" y2="347.00" stroke="#000" stroke-width="1.2" />
<path d="M88.50,468.50 L101.20,445.50 L126.70,416.50 L152.20,365.20 L203.20,342.20 L279.80,339.30 L330.80,337.10" fill="none" stroke="#000" stroke-width="2.2" stroke-dasharray="6.5,3.3" stroke-linejoin="round"/>
<circle cx="88.50" cy="468.50" r="5.0" fill="#000"/>
<circle cx="101.20" cy="445.50" r="5.0" fill="#000"/>
<circle cx="126.70" cy="416.50" r="5.0" fill="#000"/>
<circle cx="152.20" cy="365.20" r="5.0" fill="#000"/>
<circle cx="203.20" cy="342.20" r="5.0" fill="#000"/>
<circle cx="279.80" cy="339.30" r="5.0" fill="#000"/>
<circle cx="330.80" cy="337.10" r="5.0" fill="#000"/>
<line x1="477.00" y1="452.00" x2="477.00" y2="474.70" stroke="#333" stroke-width="1.2" />
<line x1="472.00" y1="452.00" x2="482.00" y2="452.00" stroke="#333" stroke-width="1.2" />
<line x1="472.00" y1="474.70" x2="482.00" y2="474.70" stroke="#333" stroke-width="1.2" />
<line x1="489.80" y1="424.00" x2="489.80" y2="438.90" stroke="#333" stroke-width="1.2" />
<line x1="484.80" y1="424.00" x2="494.80" y2="424.00" stroke="#333" stroke-width="1.2" />
<line x1="484.80" y1="438.90" x2="494.80" y2="438.90" stroke="#333" stroke-width="1.2" />
<line x1="515.30" y1="368.00" x2="515.30" y2="402.00" stroke="#333" stroke-width="1.2" />
<line x1="510.30" y1="368.00" x2="520.30" y2="368.00" stroke="#333" stroke-width="1.2" />
<line x1="510.30" y1="402.00" x2="520.30" y2="402.00" stroke="#333" stroke-width="1.2" />
<line x1="540.80" y1="338.00" x2="540.80" y2="367.00" stroke="#333" stroke-width="1.2" />
<line x1="535.80" y1="338.00" x2="545.80" y2="338.00" stroke="#333" stroke-width="1.2" />
<line x1="535.80" y1="367.00" x2="545.80" y2="367.00" stroke="#333" stroke-width="1.2" />
<line x1="591.90" y1="347.40" x2="591.90" y2="372.70" stroke="#333" stroke-width="1.2" />
<line x1="586.90" y1="347.40" x2="596.90" y2="347.40" stroke="#333" stroke-width="1.2" />
<line x1="586.90" y1="372.70" x2="596.90" y2="372.70" stroke="#333" stroke-width="1.2" />
<line x1="668.30" y1="389.40" x2="668.30" y2="414.50" stroke="#333" stroke-width="1.2" />
<line x1="663.30" y1="389.40" x2="673.30" y2="389.40" stroke="#333" stroke-width="1.2" />
<line x1="663.30" y1="414.50" x2="673.30" y2="414.50" stroke="#333" stroke-width="1.2" />
<line x1="719.20" y1="397.50" x2="719.20" y2="421.80" stroke="#333" stroke-width="1.2" />
<line x1="714.20" y1="397.50" x2="724.20" y2="397.50" stroke="#333" stroke-width="1.2" />
<line x1="714.20" y1="421.80" x2="724.20" y2="421.80" stroke="#333" stroke-width="1.2" />
<path d="M477.00,463.10 L489.80,432.50 L515.30,384.90 L540.80,352.60 L591.90,360.30 L668.30,402.00 L719.20,411.60" fill="none" stroke="#333" stroke-width="1.8"  stroke-linejoin="round"/>
<circle cx="477.00" cy="463.10" r="4.75" fill="#fff" stroke="#000" stroke-width="1.35"/>
<circle cx="489.80" cy="432.50" r="4.75" fill="#fff" stroke="#000" stroke-width="1.35"/>
<circle cx="515.30" cy="384.90" r="4.75" fill="#fff" stroke="#000" stroke-width="1.35"/>
<circle cx="540.80" cy="352.60" r="4.75" fill="#fff" stroke="#000" stroke-width="1.35"/>
<circle cx="591.90" cy="360.30" r="4.75" fill="#fff" stroke="#000" stroke-width="1.35"/>
<circle cx="668.30" cy="402.00" r="4.75" fill="#fff" stroke="#000" stroke-width="1.35"/>
<circle cx="719.20" cy="411.60" r="4.75" fill="#fff" stroke="#000" stroke-width="1.35"/>
<line x1="477.00" y1="449.60" x2="477.00" y2="471.00" stroke="#000" stroke-width="1.2" />
<line x1="472.00" y1="449.60" x2="482.00" y2="449.60" stroke="#000" stroke-width="1.2" />
<line x1="472.00" y1="471.00" x2="482.00" y2="471.00" stroke="#000" stroke-width="1.2" />
<line x1="489.80" y1="408.50" x2="489.80" y2="438.90" stroke="#000" stroke-width="1.2" />
<line x1="484.80" y1="408.50" x2="494.80" y2="408.50" stroke="#000" stroke-width="1.2" />
<line x1="484.80" y1="438.90" x2="494.80" y2="438.90" stroke="#000" stroke-width="1.2" />
<line x1="515.30" y1="365.00" x2="515.30" y2="405.70" stroke="#000" stroke-width="1.2" />
<line x1="510.30" y1="365.00" x2="520.30" y2="365.00" stroke="#000" stroke-width="1.2" />
<line x1="510.30" y1="405.70" x2="520.30" y2="405.70" stroke="#000" stroke-width="1.2" />
<line x1="540.80" y1="320.60" x2="540.80" y2="348.00" stroke="#000" stroke-width="1.2" />
<line x1="535.80" y1="320.60" x2="545.80" y2="320.60" stroke="#000" stroke-width="1.2" />
<line x1="535.80" y1="348.00" x2="545.80" y2="348.00" stroke="#000" stroke-width="1.2" />
<line x1="591.90" y1="343.00" x2="591.90" y2="369.00" stroke="#000" stroke-width="1.2" />
<line x1="586.90" y1="343.00" x2="596.90" y2="343.00" stroke="#000" stroke-width="1.2" />
<line x1="586.90" y1="369.00" x2="596.90" y2="369.00" stroke="#000" stroke-width="1.2" />
<line x1="668.30" y1="400.00" x2="668.30" y2="418.20" stroke="#000" stroke-width="1.2" />
<line x1="663.30" y1="400.00" x2="673.30" y2="400.00" stroke="#000" stroke-width="1.2" />
<line x1="663.30" y1="418.20" x2="673.30" y2="418.20" stroke="#000" stroke-width="1.2" />
<line x1="719.20" y1="426.00" x2="719.20" y2="440.20" stroke="#000" stroke-width="1.2" />
<line x1="714.20" y1="426.00" x2="724.20" y2="426.00" stroke="#000" stroke-width="1.2" />
<line x1="714.20" y1="440.20" x2="724.20" y2="440.20" stroke="#000" stroke-width="1.2" />
<path d="M477.00,460.30 L489.80,423.90 L515.30,384.90 L540.80,334.50 L591.90,355.50 L668.30,408.70 L719.20,430.80" fill="none" stroke="#000" stroke-width="2.2" stroke-dasharray="6.5,3.3" stroke-linejoin="round"/>
<circle cx="477.00" cy="460.30" r="5.0" fill="#000"/>
<circle cx="489.80" cy="423.90" r="5.0" fill="#000"/>
<circle cx="515.30" cy="384.90" r="5.0" fill="#000"/>
<circle cx="540.80" cy="334.50" r="5.0" fill="#000"/>
<circle cx="591.90" cy="355.50" r="5.0" fill="#000"/>
<circle cx="668.30" cy="408.70" r="5.0" fill="#000"/>
<circle cx="719.20" cy="430.80" r="5.0" fill="#000"/>
<line x1="91.20" y1="651.50" x2="91.20" y2="684.80" stroke="#000" stroke-width="1.2" />
<line x1="86.20" y1="651.50" x2="96.20" y2="651.50" stroke="#000" stroke-width="1.2" />
<line x1="86.20" y1="684.80" x2="96.20" y2="684.80" stroke="#000" stroke-width="1.2" />
<line x1="103.90" y1="636.20" x2="103.90" y2="676.00" stroke="#000" stroke-width="1.2" />
<line x1="98.90" y1="636.20" x2="108.90" y2="636.20" stroke="#000" stroke-width="1.2" />
<line x1="98.90" y1="676.00" x2="108.90" y2="676.00" stroke="#000" stroke-width="1.2" />
<line x1="129.40" y1="624.00" x2="129.40" y2="666.00" stroke="#000" stroke-width="1.2" />
<line x1="124.40" y1="624.00" x2="134.40" y2="624.00" stroke="#000" stroke-width="1.2" />
<line x1="124.40" y1="666.00" x2="134.40" y2="666.00" stroke="#000" stroke-width="1.2" />
<line x1="154.90" y1="623.00" x2="154.90" y2="664.50" stroke="#000" stroke-width="1.2" />
<line x1="149.90" y1="623.00" x2="159.90" y2="623.00" stroke="#000" stroke-width="1.2" />
<line x1="149.90" y1="664.50" x2="159.90" y2="664.50" stroke="#000" stroke-width="1.2" />
<line x1="205.80" y1="622.60" x2="205.80" y2="662.50" stroke="#000" stroke-width="1.2" />
<line x1="200.80" y1="622.60" x2="210.80" y2="622.60" stroke="#000" stroke-width="1.2" />
<line x1="200.80" y1="662.50" x2="210.80" y2="662.50" stroke="#000" stroke-width="1.2" />
<line x1="282.90" y1="623.60" x2="282.90" y2="665.40" stroke="#000" stroke-width="1.2" />
<line x1="277.90" y1="623.60" x2="287.90" y2="623.60" stroke="#000" stroke-width="1.2" />
<line x1="277.90" y1="665.40" x2="287.90" y2="665.40" stroke="#000" stroke-width="1.2" />
<line x1="333.70" y1="624.70" x2="333.70" y2="663.10" stroke="#000" stroke-width="1.2" />
<line x1="328.70" y1="624.70" x2="338.70" y2="624.70" stroke="#000" stroke-width="1.2" />
<line x1="328.70" y1="663.10" x2="338.70" y2="663.10" stroke="#000" stroke-width="1.2" />
<path d="M91.20,668.00 L103.90,656.00 L129.40,644.90 L154.90,643.90 L205.80,642.60 L282.90,644.50 L333.70,643.90" fill="none" stroke="#000" stroke-width="2.2" stroke-dasharray="6.5,3.3" stroke-linejoin="round"/>
<circle cx="91.20" cy="668.00" r="4.75" fill="#fff" stroke="#000" stroke-width="1.35"/>
<circle cx="103.90" cy="656.00" r="4.75" fill="#fff" stroke="#000" stroke-width="1.35"/>
<circle cx="129.40" cy="644.90" r="4.75" fill="#fff" stroke="#000" stroke-width="1.35"/>
<circle cx="154.90" cy="643.90" r="4.75" fill="#fff" stroke="#000" stroke-width="1.35"/>
<circle cx="205.80" cy="642.60" r="4.75" fill="#fff" stroke="#000" stroke-width="1.35"/>
<circle cx="282.90" cy="644.50" r="4.75" fill="#fff" stroke="#000" stroke-width="1.35"/>
<circle cx="333.70" cy="643.90" r="4.75" fill="#fff" stroke="#000" stroke-width="1.35"/>
<line x1="91.20" y1="634.30" x2="91.20" y2="651.00" stroke="#000" stroke-width="1.2" />
<line x1="86.20" y1="634.30" x2="96.20" y2="634.30" stroke="#000" stroke-width="1.2" />
<line x1="86.20" y1="651.00" x2="96.20" y2="651.00" stroke="#000" stroke-width="1.2" />
<line x1="103.90" y1="620.50" x2="103.90" y2="638.70" stroke="#000" stroke-width="1.2" />
<line x1="98.90" y1="620.50" x2="108.90" y2="620.50" stroke="#000" stroke-width="1.2" />
<line x1="98.90" y1="638.70" x2="108.90" y2="638.70" stroke="#000" stroke-width="1.2" />
<line x1="129.40" y1="611.00" x2="129.40" y2="629.50" stroke="#000" stroke-width="1.2" />
<line x1="124.40" y1="611.00" x2="134.40" y2="611.00" stroke="#000" stroke-width="1.2" />
<line x1="124.40" y1="629.50" x2="134.40" y2="629.50" stroke="#000" stroke-width="1.2" />
<line x1="154.90" y1="611.90" x2="154.90" y2="630.50" stroke="#000" stroke-width="1.2" />
<line x1="149.90" y1="611.90" x2="159.90" y2="611.90" stroke="#000" stroke-width="1.2" />
<line x1="149.90" y1="630.50" x2="159.90" y2="630.50" stroke="#000" stroke-width="1.2" />
<line x1="205.80" y1="612.80" x2="205.80" y2="631.00" stroke="#000" stroke-width="1.2" />
<line x1="200.80" y1="612.80" x2="210.80" y2="612.80" stroke="#000" stroke-width="1.2" />
<line x1="200.80" y1="631.00" x2="210.80" y2="631.00" stroke="#000" stroke-width="1.2" />
<line x1="282.90" y1="614.20" x2="282.90" y2="632.40" stroke="#000" stroke-width="1.2" />
<line x1="277.90" y1="614.20" x2="287.90" y2="614.20" stroke="#000" stroke-width="1.2" />
<line x1="277.90" y1="632.40" x2="287.90" y2="632.40" stroke="#000" stroke-width="1.2" />
<line x1="333.70" y1="613.20" x2="333.70" y2="631.80" stroke="#000" stroke-width="1.2" />
<line x1="328.70" y1="613.20" x2="338.70" y2="613.20" stroke="#000" stroke-width="1.2" />
<line x1="328.70" y1="631.80" x2="338.70" y2="631.80" stroke="#000" stroke-width="1.2" />
<path d="M91.20,642.60 L103.90,629.50 L129.40,620.30 L154.90,620.90 L205.80,622.20 L282.90,623.40 L333.70,622.40" fill="none" stroke="#000" stroke-width="2.2"  stroke-linejoin="round"/>
<circle cx="91.20" cy="642.60" r="5.0" fill="#000"/>
<circle cx="103.90" cy="629.50" r="5.0" fill="#000"/>
<circle cx="129.40" cy="620.30" r="5.0" fill="#000"/>
<circle cx="154.90" cy="620.90" r="5.0" fill="#000"/>
<circle cx="205.80" cy="622.20" r="5.0" fill="#000"/>
<circle cx="282.90" cy="623.40" r="5.0" fill="#000"/>
<circle cx="333.70" cy="622.40" r="5.0" fill="#000"/>
<line x1="480.10" y1="713.00" x2="480.10" y2="721.00" stroke="#666" stroke-width="1.2" />
<line x1="475.10" y1="713.00" x2="485.10" y2="713.00" stroke="#666" stroke-width="1.2" />
<line x1="475.10" y1="721.00" x2="485.10" y2="721.00" stroke="#666" stroke-width="1.2" />
<line x1="493.00" y1="706.00" x2="493.00" y2="712.50" stroke="#666" stroke-width="1.2" />
<line x1="488.00" y1="706.00" x2="498.00" y2="706.00" stroke="#666" stroke-width="1.2" />
<line x1="488.00" y1="712.50" x2="498.00" y2="712.50" stroke="#666" stroke-width="1.2" />
<line x1="518.40" y1="687.60" x2="518.40" y2="705.80" stroke="#666" stroke-width="1.2" />
<line x1="513.40" y1="687.60" x2="523.40" y2="687.60" stroke="#666" stroke-width="1.2" />
<line x1="513.40" y1="705.80" x2="523.40" y2="705.80" stroke="#666" stroke-width="1.2" />
<line x1="544.10" y1="671.30" x2="544.10" y2="692.20" stroke="#666" stroke-width="1.2" />
<line x1="539.10" y1="671.30" x2="549.10" y2="671.30" stroke="#666" stroke-width="1.2" />
<line x1="539.10" y1="692.20" x2="549.10" y2="692.20" stroke="#666" stroke-width="1.2" />
<line x1="594.90" y1="653.70" x2="594.90" y2="684.80" stroke="#666" stroke-width="1.2" />
<line x1="589.90" y1="653.70" x2="599.90" y2="653.70" stroke="#666" stroke-width="1.2" />
<line x1="589.90" y1="684.80" x2="599.90" y2="684.80" stroke="#666" stroke-width="1.2" />
<line x1="671.50" y1="622.80" x2="671.50" y2="667.20" stroke="#666" stroke-width="1.2" />
<line x1="666.50" y1="622.80" x2="676.50" y2="622.80" stroke="#666" stroke-width="1.2" />
<line x1="666.50" y1="667.20" x2="676.50" y2="667.20" stroke="#666" stroke-width="1.2" />
<line x1="722.30" y1="620.00" x2="722.30" y2="666.60" stroke="#666" stroke-width="1.2" />
<line x1="717.30" y1="620.00" x2="727.30" y2="620.00" stroke="#666" stroke-width="1.2" />
<line x1="717.30" y1="666.60" x2="727.30" y2="666.60" stroke="#666" stroke-width="1.2" />
<path d="M480.10,717.00 L493.00,709.30 L518.40,697.00 L544.10,681.80 L594.90,669.40 L671.50,644.90 L722.30,643.60" fill="none" stroke="#333" stroke-width="1.8"  stroke-linejoin="round"/>
<circle cx="480.10" cy="717.00" r="4.75" fill="#fff" stroke="#000" stroke-width="1.35"/>
<circle cx="493.00" cy="709.30" r="4.75" fill="#fff" stroke="#000" stroke-width="1.35"/>
<circle cx="518.40" cy="697.00" r="4.75" fill="#fff" stroke="#000" stroke-width="1.35"/>
<circle cx="544.10" cy="681.80" r="4.75" fill="#fff" stroke="#000" stroke-width="1.35"/>
<circle cx="594.90" cy="669.40" r="4.75" fill="#fff" stroke="#000" stroke-width="1.35"/>
<circle cx="671.50" cy="644.90" r="4.75" fill="#fff" stroke="#000" stroke-width="1.35"/>
<circle cx="722.30" cy="643.60" r="4.75" fill="#fff" stroke="#000" stroke-width="1.35"/>
<line x1="480.10" y1="710.40" x2="480.10" y2="725.40" stroke="#000" stroke-width="1.2" />
<line x1="475.10" y1="710.40" x2="485.10" y2="710.40" stroke="#000" stroke-width="1.2" />
<line x1="475.10" y1="725.40" x2="485.10" y2="725.40" stroke="#000" stroke-width="1.2" />
<line x1="493.00" y1="722.70" x2="493.00" y2="733.70" stroke="#000" stroke-width="1.2" />
<line x1="488.00" y1="722.70" x2="498.00" y2="722.70" stroke="#000" stroke-width="1.2" />
<line x1="488.00" y1="733.70" x2="498.00" y2="733.70" stroke="#000" stroke-width="1.2" />
<line x1="518.40" y1="727.30" x2="518.40" y2="738.80" stroke="#000" stroke-width="1.2" />
<line x1="513.40" y1="727.30" x2="523.40" y2="727.30" stroke="#000" stroke-width="1.2" />
<line x1="513.40" y1="738.80" x2="523.40" y2="738.80" stroke="#000" stroke-width="1.2" />
<line x1="544.10" y1="709.40" x2="544.10" y2="726.30" stroke="#000" stroke-width="1.2" />
<line x1="539.10" y1="709.40" x2="549.10" y2="709.40" stroke="#000" stroke-width="1.2" />
<line x1="539.10" y1="726.30" x2="549.10" y2="726.30" stroke="#000" stroke-width="1.2" />
<line x1="594.90" y1="690.60" x2="594.90" y2="711.30" stroke="#000" stroke-width="1.2" />
<line x1="589.90" y1="690.60" x2="599.90" y2="690.60" stroke="#000" stroke-width="1.2" />
<line x1="589.90" y1="711.30" x2="599.90" y2="711.30" stroke="#000" stroke-width="1.2" />
<line x1="671.50" y1="678.70" x2="671.50" y2="695.70" stroke="#000" stroke-width="1.2" />
<line x1="666.50" y1="678.70" x2="676.50" y2="678.70" stroke="#000" stroke-width="1.2" />
<line x1="666.50" y1="695.70" x2="676.50" y2="695.70" stroke="#000" stroke-width="1.2" />
<line x1="722.30" y1="676.20" x2="722.30" y2="690.20" stroke="#000" stroke-width="1.2" />
<line x1="717.30" y1="676.20" x2="727.30" y2="676.20" stroke="#000" stroke-width="1.2" />
<line x1="717.30" y1="690.20" x2="727.30" y2="690.20" stroke="#000" stroke-width="1.2" />
<path d="M480.10,717.70 L493.00,728.20 L518.40,733.00 L544.10,717.70 L594.90,701.10 L671.50,687.30 L722.30,683.30" fill="none" stroke="#000" stroke-width="2.2" stroke-dasharray="6.5,3.3" stroke-linejoin="round"/>
<circle cx="480.10" cy="717.70" r="5.0" fill="#000"/>
<circle cx="493.00" cy="728.20" r="5.0" fill="#000"/>
<circle cx="518.40" cy="733.00" r="5.0" fill="#000"/>
<circle cx="544.10" cy="717.70" r="5.0" fill="#000"/>
<circle cx="594.90" cy="701.10" r="5.0" fill="#000"/>
<circle cx="671.50" cy="687.30" r="5.0" fill="#000"/>
<circle cx="722.30" cy="683.30" r="5.0" fill="#000"/>
<text x="477.3" y="59.9" font-size="18" text-anchor="middle" font-weight="bold">*</text>
<line x1="187.8" y1="25.5" x2="210.4" y2="25.5" stroke="#000" stroke-width="2" stroke-dasharray="12,7.5,3,10"/>
<circle cx="199.4" cy="25.5" r="4.8" fill="#000"/>
<line x1="187.8" y1="53" x2="209.8" y2="53" stroke="#333" stroke-width="1.8"/>
<circle cx="198.9" cy="53" r="4.6" fill="#fff" stroke="#000" stroke-width="1.3"/>
<g transform="translate(221.9,32.1) scale(1,1)"><text x="0" y="0" font-size="16" font-style="italic" stroke="#000" stroke-width="0.2">Cav1.2<tspan font-size="10.8" dy="-4.4">f/f</tspan></text></g>
<g transform="translate(221.9,59.9) scale(1,1)"><text x="0" y="0" font-size="16" font-style="italic" letter-spacing="-0.28" stroke="#000" stroke-width="0.2">Pdgfrα-CreER<tspan font-size="11.5" dy="-4.0" letter-spacing="0">TM</tspan><tspan dy="4.0">;</tspan></text></g>
<g transform="translate(221.9,81.10000000000001) scale(1,1)"><text x="0" y="0" font-size="16" font-style="italic" stroke="#000" stroke-width="0.2">Cav1.2<tspan font-size="10.8" dy="-4.4">f/f</tspan></text></g>
</g>
</svg>
</body></html>
